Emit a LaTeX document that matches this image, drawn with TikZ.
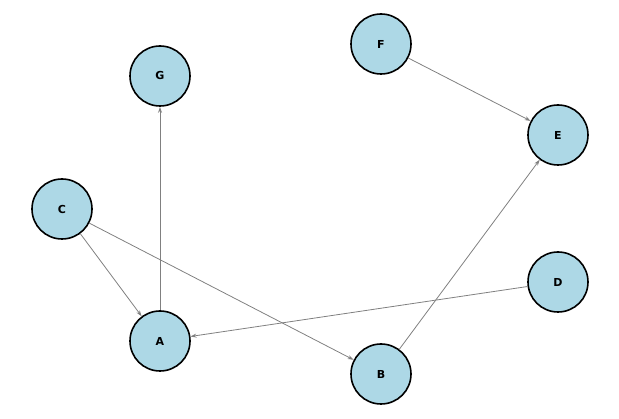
\documentclass[tikz,border=0pt]{standalone}
\usepackage{fontspec}
\setsansfont{DejaVu Sans}
\usetikzlibrary{arrows.meta}
\begin{document}
\begin{tikzpicture}[x=1pt,y=-1pt,
  vert/.style={circle,draw=black,line width=1.6pt,fill=lightblue,minimum size=60pt,inner sep=0pt,font=\sffamily\bfseries\fontsize{11}{13}\selectfont},
  edge/.style={draw=gray,line width=0.8pt,-{Stealth[length=6pt,width=4pt]}}]
\definecolor{lightblue}{HTML}{ADD8E6}
\useasboundingbox (0,0) rectangle (619,419);
\node[vert] (G) at (160,76) {G};
\node[vert] (F) at (381,44) {F};
\node[vert] (E) at (558,135) {E};
\node[vert] (C) at (62,209) {C};
\node[vert] (D) at (558,282) {D};
\node[vert] (A) at (160,341) {A};
\node[vert] (B) at (381,374) {B};
\draw[edge] (F) -- (E);
\draw[edge] (B) -- (E);
\draw[edge] (A) -- (G);
\draw[edge] (C) -- (A);
\draw[edge] (C) -- (B);
\draw[edge] (D) -- (A);
\end{tikzpicture}
\end{document}
